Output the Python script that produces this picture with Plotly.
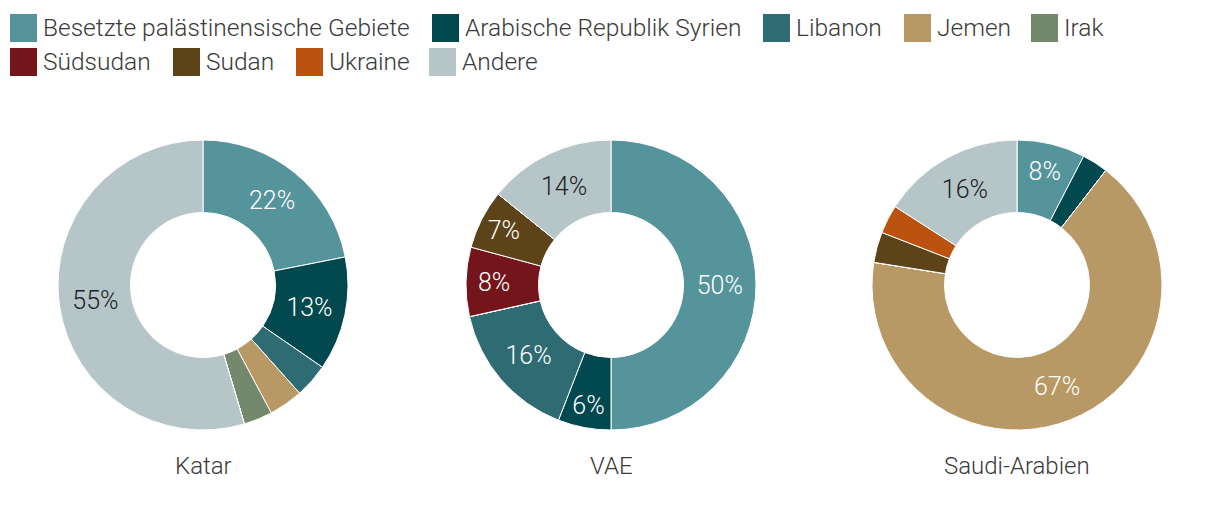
import plotly.graph_objects as go

labels = ["Besetzte palästinensische Gebiete", "Arabische Republik Syrien", "Libanon",
          "Jemen", "Irak", "Südsudan", "Sudan", "Ukraine", "Andere"]
colors = ["#56949B", "#02484F", "#2E6B73", "#B89865", "#74886C",
          "#74141B", "#5C4418", "#BC520F", "#B5C5C8"]

countries = ["Katar", "VAE", "Saudi-Arabien"]
katar = [21.9, 12.7, 3.8, 3.8, 3.2, 0, 0, 0, 54.6]
vae = [50.0, 5.9, 15.6, 0, 0, 7.7, 6.6, 0, 14.2]
saudi = [7.6, 2.9, 0, 67.0, 0, 0, 3.4, 3.2, 15.9]
series = [katar, vae, saudi]

FONT = "Roboto"
W, H = 1220, 510
OFF = 8  # page body margin in the browser


def px(x):
    return (x - OFF) / W


def py(y):
    return 1 - (y - OFF) / H


text_colors = ["#ffffff"] * 8 + ["#222222"]
centers_x = [203, 611, 1017]
center_y, radius = 285, 145

fig = go.Figure()
for i, (name, vals) in enumerate(zip(countries, series)):
    templates = ["%{percent:.0%}" if v >= 5 else "" for v in vals]
    cx = centers_x[i]
    fig.add_trace(go.Pie(
        labels=labels, values=vals, name=name,
        hole=0.5, sort=False, direction="clockwise", rotation=0,
        marker=dict(colors=colors, line=dict(color="#ffffff", width=1)),
        texttemplate=templates, textposition="inside",
        insidetextorientation="horizontal",
        textfont=dict(family=FONT, size=25, color=text_colors, weight=300),
        domain=dict(x=[px(cx - radius), px(cx + radius)],
                    y=[py(center_y + radius), py(center_y - radius)]),
        showlegend=False, hoverinfo="label+percent",
    ))
    fig.add_annotation(
        x=px(cx), y=py(466), xref="paper", yref="paper",
        text=name, showarrow=False, xanchor="center", yanchor="middle",
        font=dict(family=FONT, size=24, color="#3a3a3a", weight=300),
    )

# legend (two rows, as in the original layout)
legend_pos = [(10, 28), (432, 28), (763, 28), (904, 28), (1031, 28),
              (10, 62), (173, 62), (296, 62), (429, 62)]
for lab, col, (lx, ly) in zip(labels, colors, legend_pos):
    fig.add_shape(type="rect", xref="paper", yref="paper",
                  x0=px(lx), x1=px(lx + 27), y0=py(ly + 14), y1=py(ly - 14),
                  fillcolor=col, line=dict(width=0))
    fig.add_annotation(x=px(lx + 31), y=py(ly), xref="paper", yref="paper",
                       text=lab, showarrow=False, xanchor="left", yanchor="middle",
                       font=dict(family=FONT, size=24.5, color="#3a3a3a", weight=300))

fig.update_layout(
    width=W, height=H,
    margin=dict(l=0, r=0, t=0, b=0),
    paper_bgcolor="#ffffff", plot_bgcolor="#ffffff",
    font=dict(family=FONT, size=24, color="#3a3a3a", weight=300),
    showlegend=False,
)

fig.write_html("out.html")
